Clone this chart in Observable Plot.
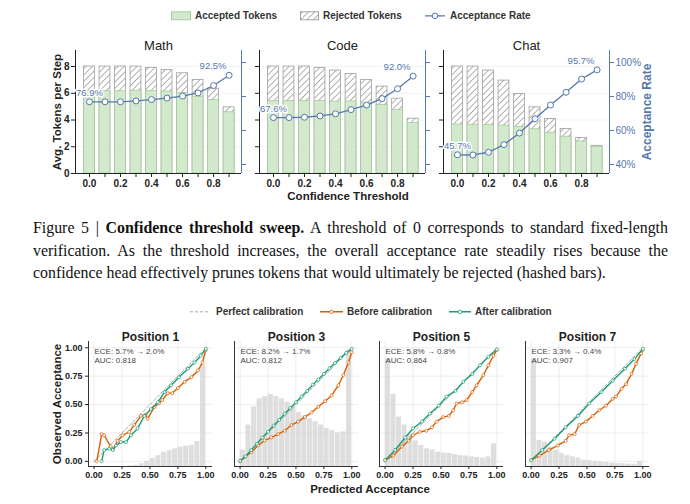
<!DOCTYPE html>
<html><head><meta charset="utf-8">
<script src="https://cdn.jsdelivr.net/npm/d3@7"></script>
<script src="https://cdn.jsdelivr.net/npm/@observablehq/plot@0.6"></script>
<style>
html,body{margin:0;padding:0;background:#fff;}
#fig{position:relative;width:690px;height:504px;overflow:hidden;font-family:"Liberation Sans",Arial,sans-serif;color:#222;}
.lab{position:absolute;white-space:nowrap;transform:translate(-50%,-50%);line-height:1;}
.cap{position:absolute;left:33px;width:635px;font-family:"Liberation Serif","Times New Roman",serif;color:#111;line-height:20px;}
.cap.j{text-align:justify;text-align-last:justify;}
.leg{position:absolute;white-space:nowrap;font-weight:bold;font-size:10px;color:#333;line-height:1;transform:translateY(-50%);}
</style>
</head><body>
<div id="fig"></div>
<script>
// ---------------- DATA ----------------
const thresholds = [0, 0.1, 0.2, 0.3, 0.4, 0.5, 0.6, 0.7, 0.8, 0.9];
const tokenTicks = [0, 2, 4, 6, 8];
const rateTicks = [40, 60, 80, 100];

const domainNames = ["Math", "Code", "Chat"];
const mathTotal    = [8.0, 8.0, 8.0, 8.0, 7.9, 7.75, 7.5, 7.0, 6.35, 4.95];
const mathAccepted = [6.15, 6.15, 6.15, 6.19, 6.18, 6.13, 6.02, 5.75, 5.49, 4.58];
const mathRate     = [76.9, 76.9, 76.9, 77.4, 78.2, 79.1, 80.3, 82.1, 86.5, 92.5];
const codeTotal    = [8.0, 8.0, 8.0, 7.9, 7.7, 7.45, 7.0, 6.5, 5.6, 4.1];
const codeAccepted = [5.41, 5.41, 5.42, 5.42, 5.37, 5.39, 5.25, 5.12, 4.74, 3.77];
const codeRate     = [67.6, 67.6, 67.8, 68.6, 69.8, 72.3, 75.0, 78.8, 84.6, 92.0];
const chatTotal    = [8.0, 8.0, 7.7, 6.95, 5.95, 4.95, 4.07, 3.33, 2.65, 2.07];
const chatAccepted = [3.66, 3.65, 3.63, 3.59, 3.48, 3.31, 3.05, 2.75, 2.39, 1.98];
const chatRate     = [45.7, 45.6, 47.2, 51.7, 58.5, 66.9, 75.0, 82.5, 90.3, 95.7];

const calTicks = [0, 0.25, 0.5, 0.75, 1.0];
const positionNames = ["Position 1", "Position 3", "Position 5", "Position 7"];
const eceBefore = [5.7, 8.2, 5.8, 3.3];
const eceAfter  = [2.0, 1.7, 0.8, 0.4];
const aucValues = [0.818, 0.812, 0.864, 0.907];

const p1BeforeX = [0.024,0.068,0.09,0.15,0.17,0.21,0.256,0.315,0.36,0.42,0.46,0.48,0.54,0.58,0.61,0.66,0.70,0.75,0.81,0.87,0.93,0.97,1.0];
const p1BeforeY = [0.0,0.24,0.23,0.13,0.105,0.18,0.23,0.26,0.32,0.40,0.41,0.375,0.48,0.51,0.54,0.60,0.60,0.645,0.70,0.74,0.80,0.87,0.98];
const p1AfterX  = [0.068,0.09,0.137,0.167,0.196,0.24,0.286,0.33,0.39,0.45,0.51,0.57,0.63,0.69,0.76,0.84,0.90,0.955,1.0];
const p1AfterY  = [0.0,0.10,0.11,0.10,0.14,0.17,0.17,0.23,0.29,0.40,0.46,0.52,0.61,0.67,0.74,0.815,0.87,0.93,0.99];

const p3BeforeX = [0,0.045,0.10,0.16,0.22,0.28,0.34,0.40,0.46,0.52,0.58,0.64,0.70,0.76,0.82,0.88,0.925,0.97,1.0];
const p3BeforeY = [0,0.04,0.08,0.14,0.185,0.21,0.24,0.27,0.32,0.35,0.39,0.43,0.48,0.53,0.58,0.67,0.76,0.87,0.96];
const p3AfterX  = [0,0.05,0.1,0.15,0.2,0.25,0.3,0.35,0.4,0.45,0.5,0.55,0.6,0.65,0.7,0.75,0.8,0.85,0.9,0.95,1.0];
const p3AfterY  = [0.005,0.045,0.10,0.155,0.21,0.26,0.315,0.365,0.42,0.47,0.52,0.57,0.62,0.675,0.72,0.77,0.82,0.865,0.91,0.955,0.99];

const p5BeforeX = [0,0.075,0.15,0.21,0.25,0.31,0.37,0.42,0.46,0.52,0.57,0.61,0.64,0.69,0.73,0.78,0.82,0.88,0.925,0.97,1.0];
const p5BeforeY = [0.01,0.05,0.13,0.18,0.23,0.26,0.27,0.30,0.35,0.39,0.40,0.45,0.51,0.52,0.54,0.61,0.67,0.76,0.845,0.93,0.98];
const p5AfterX  = [0,0.09,0.18,0.25,0.33,0.40,0.48,0.55,0.63,0.70,0.78,0.85,0.925,1.0];
const p5AfterY  = [0.01,0.10,0.21,0.29,0.35,0.42,0.49,0.57,0.62,0.70,0.77,0.845,0.92,0.985];

const p7BeforeX = [0,0.075,0.16,0.24,0.31,0.34,0.39,0.43,0.49,0.55,0.61,0.67,0.73,0.76,0.81,0.85,0.90,0.94,0.985,1.0];
const p7BeforeY = [0.01,0.05,0.10,0.14,0.18,0.23,0.24,0.32,0.35,0.40,0.45,0.49,0.55,0.57,0.64,0.68,0.77,0.86,0.95,0.98];
const p7AfterX  = [0,0.10,0.21,0.31,0.42,0.52,0.63,0.73,0.84,0.925,1.0];
const p7AfterY  = [0.01,0.10,0.20,0.30,0.40,0.51,0.61,0.71,0.815,0.90,0.99];

// histogram bar tops (in observed-acceptance units; bars rise from the axis bottom)
const binEdges = [0,0.05,0.1,0.15,0.2,0.25,0.3,0.35,0.4,0.45,0.5,0.55,0.6,0.65,0.7,0.75,0.8,0.85,0.9,0.95,1.0];
const p1Hist = [-0.045,-0.045,-0.045,-0.045,-0.045,-0.045,-0.04,-0.035,-0.02,0.0,0.025,0.05,0.08,0.095,0.11,0.125,0.135,0.14,0.175,0.85];
const p3Hist = [0.10,0.32,0.48,0.55,0.57,0.59,0.57,0.55,0.52,0.48,0.43,0.40,0.375,0.35,0.32,0.29,0.27,0.25,0.26,0.98];
const p5Hist = [0.90,0.59,0.39,0.32,0.24,0.18,0.14,0.11,0.10,0.08,0.075,0.07,0.06,0.05,0.047,0.04,0.035,0.03,0.04,0.155];
const p7Hist = [0.90,0.185,0.17,0.125,0.10,0.07,0.05,0.04,0.03,0.01,0.005,0.0,-0.005,-0.01,-0.015,-0.02,-0.02,-0.025,-0.025,0.0];

// ---------------- STYLE / LAYOUT ----------------
const SANS = '"Liberation Sans", Arial, sans-serif';
const BLUE = "#5577b0";
const GREEN_FILL = "#d3e9cd", GREEN_STROKE = "#a3cc9b";
const ORANGE = "#d95f02", TEAL = "#1b9e77";
const TOP_XDOM = [-0.09, 0.98];
const TOKEN_DOM = [0, 9.2];
const RATE_DOM = [34.7, 107.1];
const BAR_HALF = 0.035;
const CAL_XDOM = [-0.05, 1.06];
const CAL_YDOM = [-0.045, 1.055];

const fig = document.getElementById("fig");
fig.insertAdjacentHTML("beforeend",
 `<svg width="0" height="0" style="position:absolute"><defs>
   <pattern id="hatch" patternUnits="userSpaceOnUse" width="4.5" height="4.5" patternTransform="rotate(45)">
     <rect width="4.5" height="4.5" fill="#fff"/>
     <line x1="2.25" y1="0" x2="2.25" y2="4.5" stroke="#a8a8a8" stroke-width="0.9"/>
   </pattern></defs></svg>`);

function place(el, left, top) {
  const d = document.createElement("div");
  d.style.position = "absolute"; d.style.left = left + "px"; d.style.top = top + "px";
  d.appendChild(el); fig.appendChild(d); return d;
}
function label(html, x, y, css) {
  const d = document.createElement("div");
  d.className = "lab"; d.innerHTML = html;
  d.style.left = x + "px"; d.style.top = y + "px";
  Object.assign(d.style, css || {});
  fig.appendChild(d); return d;
}

// ---------------- TOP ROW ----------------
const TOP = {W: 166, ML: 34, MR: 52, MT: 50, MB: 27, H: 200};
const topLefts = [75, 259, 443];
const topData = [
  {total: mathTotal, accepted: mathAccepted, rate: mathRate},
  {total: codeTotal, accepted: codeAccepted, rate: codeRate},
  {total: chatTotal, accepted: chatAccepted, rate: chatRate}
];

topData.forEach((p, i) => {
  const rows = thresholds.map((t, k) => ({t, total: p.total[k], acc: p.accepted[k], rate: p.rate[k]}));
  const first = i === 0, last = i === 2;
  const common = {
    width: TOP.ML + TOP.W + TOP.MR, height: TOP.H,
    marginLeft: TOP.ML, marginRight: TOP.MR, marginTop: TOP.MT, marginBottom: TOP.MB,
    style: {background: "transparent", fontFamily: SANS, color: "#222", overflow: "visible"}
  };
  const bars = Plot.plot({
    ...common,
    x: {domain: TOP_XDOM, axis: null},
    y: {domain: TOKEN_DOM, axis: null},
    marks: [
      Plot.gridY(tokenTicks, {stroke: "#000", strokeOpacity: 0.05}),
      Plot.rectY(rows, {x1: d => d.t - BAR_HALF, x2: d => d.t + BAR_HALF, y: "total", fill: "url(#hatch)", stroke: "#9e9e9e", strokeWidth: 0.8}),
      Plot.rectY(rows, {x1: d => d.t - BAR_HALF, x2: d => d.t + BAR_HALF, y: "acc", fill: GREEN_FILL, stroke: GREEN_STROKE, strokeWidth: 0.8}),
      Plot.ruleX([TOP_XDOM[0]], {stroke: "#222"}),
      Plot.ruleY([TOKEN_DOM[0]], {stroke: "#222"}),
      Plot.axisY(tokenTicks, {label: null, tickSize: 4, tickPadding: 2, fontSize: 10, fontWeight: "bold",
        tickFormat: first ? (d => String(d)) : (() => "")}),
      Plot.axisX(thresholds, {label: null, tickSize: 4, tickPadding: 2, fontSize: 10, fontWeight: "bold",
        tickFormat: d => (Math.round(d * 10) % 2 === 0 ? d.toFixed(1) : "")}),
      Plot.text([domainNames[i]], {text: d => d, frameAnchor: "top", dy: -10, fontSize: 13}),
      first ? Plot.text(["Avg. Tokens per Step"], {text: d => d, frameAnchor: "left", textAnchor: "middle", lineAnchor: "middle", rotate: -90, dx: -18, fontSize: 11.5, fontWeight: "bold"}) : null
    ]
  });
  const line = Plot.plot({
    ...common,
    x: {domain: TOP_XDOM, axis: null},
    y: {domain: RATE_DOM, axis: null},
    marks: [
      Plot.ruleX([TOP_XDOM[1]], {stroke: BLUE}),
      Plot.axisY(rateTicks, {anchor: "right", label: null, tickSize: 4, tickPadding: 2, fontSize: 10, color: BLUE,
        tickFormat: last ? (d => d + "%") : (() => "")}),
      Plot.line(rows, {x: "t", y: "rate", stroke: BLUE, strokeWidth: 1.3}),
      Plot.dot(rows, {x: "t", y: "rate", r: 3, fill: "white", stroke: BLUE, strokeWidth: 1}),
      Plot.text([rows[0]], {x: "t", y: "rate", text: d => d.rate.toFixed(1) + "%", dy: -9, fill: BLUE, stroke: "white", strokeWidth: 3, fontSize: 9.5}),
      Plot.text([rows[rows.length - 1]], {x: "t", y: "rate", text: d => d.rate.toFixed(1) + "%", dx: -16, dy: -9, fill: BLUE, stroke: "white", strokeWidth: 3, fontSize: 9.5}),
      last ? Plot.text(["Acceptance Rate"], {text: d => d, frameAnchor: "right", textAnchor: "middle", lineAnchor: "middle", rotate: -90, dx: 38, fill: BLUE, fontSize: 12, fontWeight: "bold"}) : null
    ]
  });
  place(bars, topLefts[i] - TOP.ML, 0);
  place(line, topLefts[i] - TOP.ML, 0);
});

label("Confidence Threshold", 348, 197, {fontWeight: "bold", fontSize: "11.5px"});

// top legend
function legItem(x, y, swatch, text) {
  const d = document.createElement("div");
  d.className = "leg"; d.style.left = x + "px"; d.style.top = y + "px";
  d.innerHTML = swatch + `<span style="vertical-align:middle">${text}</span>`;
  fig.appendChild(d);
}
legItem(171, 16, `<svg width="24" height="10" style="vertical-align:middle"><rect x="0.5" y="1" width="19" height="8" fill="${GREEN_FILL}" stroke="${GREEN_STROKE}"/></svg>`, "Accepted Tokens");
legItem(300, 16, `<svg width="23" height="10" style="vertical-align:middle"><rect x="0.5" y="1" width="18" height="8" fill="url(#hatch)" stroke="#9e9e9e"/></svg>`, "Rejected Tokens");
legItem(425, 16, `<svg width="25" height="10" style="vertical-align:middle"><line x1="0" y1="5" x2="20" y2="5" stroke="${BLUE}" stroke-width="1.3"/><circle cx="10" cy="5" r="2.8" fill="#fff" stroke="${BLUE}"/></svg>`, "Acceptance Rate");

// ---------------- CAPTION ----------------
const capLines = [
  `Figure 5 | <b>Confidence threshold sweep.</b> A threshold of 0 corresponds to standard fixed-length`,
  `verification. As the threshold increases, the overall acceptance rate steadily rises because the`,
  `confidence head effectively prunes tokens that would ultimately be rejected (hashed bars).`
];
const capCenters = [228, 251, 273];
const probe = document.createElement("span");
probe.style.cssText = 'position:absolute;visibility:hidden;white-space:nowrap;font-family:"Liberation Serif",serif;font-size:16px';
probe.innerHTML = capLines[2];
fig.appendChild(probe);
const capSize = 16 * 573 / probe.getBoundingClientRect().width;
probe.remove();
capLines.forEach((t, k) => {
  const d = document.createElement("div");
  d.className = "cap" + (k < 2 ? " j" : "");
  d.style.top = (capCenters[k] - 10) + "px";
  d.style.fontSize = capSize + "px";
  d.innerHTML = t;
  fig.appendChild(d);
});

// ---------------- BOTTOM ROW ----------------
const CAL = {W: 124, ML: 40, MR: 6, MT: 41, MB: 20, H: 186, top: 300};
const calLefts = [88, 233.5, 379, 524.5];
const calData = [
  {bx: p1BeforeX, by: p1BeforeY, ax: p1AfterX, ay: p1AfterY, hist: p1Hist},
  {bx: p3BeforeX, by: p3BeforeY, ax: p3AfterX, ay: p3AfterY, hist: p3Hist},
  {bx: p5BeforeX, by: p5BeforeY, ax: p5AfterX, ay: p5AfterY, hist: p5Hist},
  {bx: p7BeforeX, by: p7BeforeY, ax: p7AfterX, ay: p7AfterY, hist: p7Hist}
];

calData.forEach((p, i) => {
  const first = i === 0;
  const before = p.bx.map((x, k) => ({x, y: p.by[k]}));
  const after = p.ax.map((x, k) => ({x, y: p.ay[k]}));
  const hist = p.hist.map((h, k) => ({x1: binEdges[k], x2: binEdges[k + 1], y1: CAL_YDOM[0], y2: h}));
  const diag = [{x: calTicks[0], y: calTicks[0]}, {x: calTicks[calTicks.length - 1], y: calTicks[calTicks.length - 1]}];
  const chart = Plot.plot({
    width: CAL.ML + CAL.W + CAL.MR, height: CAL.H,
    marginLeft: CAL.ML, marginRight: CAL.MR, marginTop: CAL.MT, marginBottom: CAL.MB,
    style: {background: "transparent", fontFamily: SANS, color: "#222", overflow: "visible"},
    x: {domain: CAL_XDOM, axis: null},
    y: {domain: CAL_YDOM, axis: null},
    marks: [
      Plot.gridX(calTicks, {stroke: "#000", strokeOpacity: 0.07}),
      Plot.gridY(calTicks, {stroke: "#000", strokeOpacity: 0.07}),
      Plot.rect(hist, {x1: "x1", x2: "x2", y1: "y1", y2: "y2", fill: "#d6d6d6", fillOpacity: 0.8, insetLeft: 0.3, insetRight: 0.3}),
      Plot.line(diag, {x: "x", y: "y", stroke: "#aaa", strokeWidth: 1, strokeDasharray: "3,2"}),
      Plot.line(before, {x: "x", y: "y", stroke: ORANGE, strokeWidth: 1.4}),
      Plot.dot(before, {x: "x", y: "y", r: 1.5, fill: "white", stroke: ORANGE, strokeWidth: 0.7}),
      Plot.line(after, {x: "x", y: "y", stroke: TEAL, strokeWidth: 1.4}),
      Plot.dot(after, {x: "x", y: "y", r: 1.5, fill: "white", stroke: TEAL, strokeWidth: 0.7}),
      Plot.ruleX([CAL_XDOM[0]], {stroke: "#333"}),
      Plot.ruleY([CAL_YDOM[0]], {stroke: "#333"}),
      Plot.axisX(calTicks, {label: null, tickSize: 3, tickPadding: 2, fontSize: 9, fontWeight: "bold", tickFormat: d => d.toFixed(2)}),
      first ? Plot.axisY(calTicks, {label: null, tickSize: 3, tickPadding: 3, fontSize: 9, fontWeight: "bold", tickFormat: d => d.toFixed(2)}) : null,
      Plot.text([positionNames[i]], {text: d => d, frameAnchor: "top", dy: -9, fontSize: 12, fontWeight: "bold"}),
      Plot.text([i], {text: k => `ECE: ${eceBefore[k].toFixed(1)}% → ${eceAfter[k].toFixed(1)}%\nAUC: ${aucValues[k].toFixed(3)}`,
        frameAnchor: "top-left", dx: 6, dy: 6, fontSize: 8, lineHeight: 1.12, fill: "#444"}),
      first ? Plot.text(["Observed Acceptance"], {text: d => d, frameAnchor: "left", textAnchor: "middle", lineAnchor: "middle", rotate: -90, dx: -31, fontSize: 11.5, fontWeight: "bold"}) : null
    ]
  });
  place(chart, calLefts[i] - CAL.ML, CAL.top);
});

label("Predicted Acceptance", 370, 490, {fontWeight: "bold", fontSize: "11.5px"});

// bottom legend
legItem(190, 312, `<svg width="26" height="10" style="vertical-align:middle"><line x1="0" y1="5" x2="20" y2="5" stroke="#aaa" stroke-width="1" stroke-dasharray="3,2"/></svg>`, "Perfect calibration");
legItem(320, 312, `<svg width="27" height="10" style="vertical-align:middle"><line x1="0" y1="5" x2="23" y2="5" stroke="${ORANGE}" stroke-width="1.4"/><circle cx="11.5" cy="5" r="1.8" fill="#fff" stroke="${ORANGE}" stroke-width="0.8"/></svg>`, "Before calibration");
legItem(449, 312, `<svg width="26" height="10" style="vertical-align:middle"><line x1="0" y1="5" x2="22" y2="5" stroke="${TEAL}" stroke-width="1.4"/><circle cx="11" cy="5" r="1.8" fill="#fff" stroke="${TEAL}" stroke-width="0.8"/></svg>`, "After calibration");
</script>
</body></html>
